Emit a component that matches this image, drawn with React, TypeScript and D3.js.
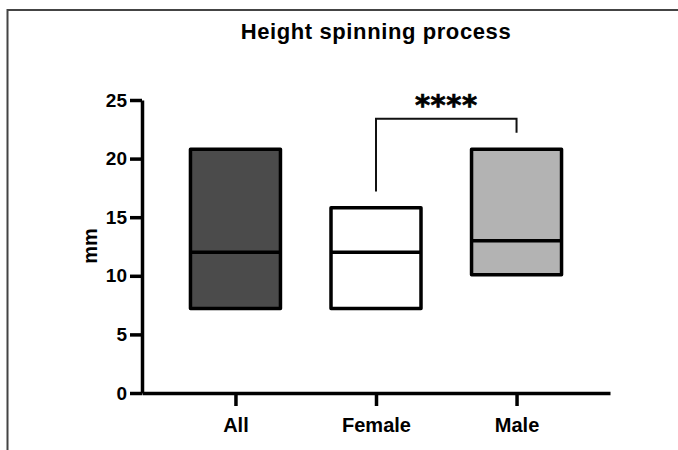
import React, { useRef, useEffect } from 'react';
import * as d3 from 'd3';

// data (box = min / median / max, in mm)
const categories = ['All', 'Female', 'Male'];
const boxMin = [7.2, 7.2, 10.1];
const boxMedian = [12, 12, 13];
const boxMax = [20.8, 15.8, 20.8];
const boxFill = ['#4b4b4b', '#ffffff', '#b3b3b3'];
const yTicks = [0, 5, 10, 15, 20, 25];

// significance bracket Female vs Male
const bracketFrom = 'Female';
const bracketTo = 'Male';
const bracketLeftEnd = 17.2;
const bracketTop = 23.4;
const bracketRightEnd = 22.2;
const bracketLabel = '****';

const FONT = '"Liberation Sans", Arial, sans-serif';

function App() {
  const svgRef = useRef<SVGSVGElement>(null);

  useEffect(() => {
    const width = 678;
    const height = 450;
    const svg = d3.select(svgRef.current)
      .attr('width', width)
      .attr('height', height);
    svg.selectAll('*').remove();

    // outer frame (only top + left edge visible)
    svg.append('path')
      .attr('d', `M7.5,${height} V10 H${width}`)
      .attr('fill', 'none')
      .attr('stroke', '#444')
      .attr('stroke-width', 2);

    const x = d3.scalePoint<string>()
      .domain(categories)
      .range([142, 610])
      .padding(0.665);

    const y = d3.scaleLinear()
      .domain([0, 25])
      .range([393, 100]);

    const boxW = 90;

    // Title
    svg.append('text')
      .attr('x', 376)
      .attr('y', 39)
      .attr('text-anchor', 'middle')
      .style('font-family', FONT)
      .style('font-weight', 'bold')
      .style('font-size', '22px')
      .style('letter-spacing', '0.6px')
      .text('Height spinning process');

    // Boxes
    const g = svg.append('g');
    categories.forEach((c, i) => {
      const cx = x(c) as number;
      g.append('rect')
        .attr('x', cx - boxW / 2)
        .attr('y', y(boxMax[i]))
        .attr('width', boxW)
        .attr('height', y(boxMin[i]) - y(boxMax[i]))
        .attr('fill', boxFill[i])
        .attr('stroke', '#000')
        .attr('stroke-width', 3.5)
        .attr('stroke-linejoin', 'round');
      g.append('line')
        .attr('x1', cx - boxW / 2)
        .attr('x2', cx + boxW / 2)
        .attr('y1', y(boxMedian[i]))
        .attr('y2', y(boxMedian[i]))
        .attr('stroke', '#000')
        .attr('stroke-width', 3.5);
    });

    // Y axis
    const yAxis = svg.append('g')
      .attr('transform', 'translate(142,0)')
      .call(d3.axisLeft(y).tickValues(yTicks).tickSize(12).tickSizeOuter(0).tickPadding(3));
    yAxis.select('.domain').attr('stroke-width', 3.5).attr('stroke', '#000');
    yAxis.selectAll('.tick line').attr('stroke-width', 3.5).attr('stroke', '#000');
    yAxis.selectAll('.tick text')
      .style('font-family', FONT)
      .style('font-weight', 'bold')
      .style('font-size', '19px')
      .attr('fill', '#000');

    // X axis
    const xAxis = svg.append('g')
      .attr('transform', `translate(0,${y(0)})`)
      .call(d3.axisBottom(x).tickSize(13).tickSizeOuter(0).tickPadding(12));
    xAxis.select('.domain').attr('stroke-width', 3.5).attr('stroke', '#000');
    xAxis.selectAll('.tick line').attr('stroke-width', 3.5).attr('stroke', '#000');
    xAxis.selectAll('.tick text')
      .style('font-family', FONT)
      .style('font-weight', 'bold')
      .style('font-size', '20px')
      .attr('fill', '#000');

    // Y label
    svg.append('text')
      .attr('transform', 'translate(97,246) rotate(-90)')
      .attr('text-anchor', 'middle')
      .style('font-family', FONT)
      .style('font-weight', 'bold')
      .style('font-size', '20px')
      .text('mm');

    // significance bracket
    const bx1 = x(bracketFrom) as number;
    const bx2 = x(bracketTo) as number;
    svg.append('path')
      .attr('d', `M${bx1},${y(bracketLeftEnd)} V${y(bracketTop)} H${bx2} V${y(bracketRightEnd)}`)
      .attr('fill', 'none')
      .attr('stroke', '#111')
      .attr('stroke-width', 2);
    svg.append('text')
      .attr('x', (bx1 + bx2) / 2)
      .attr('y', 115)
      .attr('text-anchor', 'middle')
      .style('font-family', '"DejaVu Sans", sans-serif')
      .style('font-weight', 'bold')
      .style('font-size', '29px')
      .style('letter-spacing', '0.5px')
      .attr('stroke', '#000')
      .attr('stroke-width', 0.7)
      .text(bracketLabel);
  }, []);

  return (
    <div style={{ position: 'absolute', left: 0, top: 0 }}>
      <svg ref={svgRef} style={{ display: 'block', background: '#fff' }}></svg>
    </div>
  );
}

export default App;
